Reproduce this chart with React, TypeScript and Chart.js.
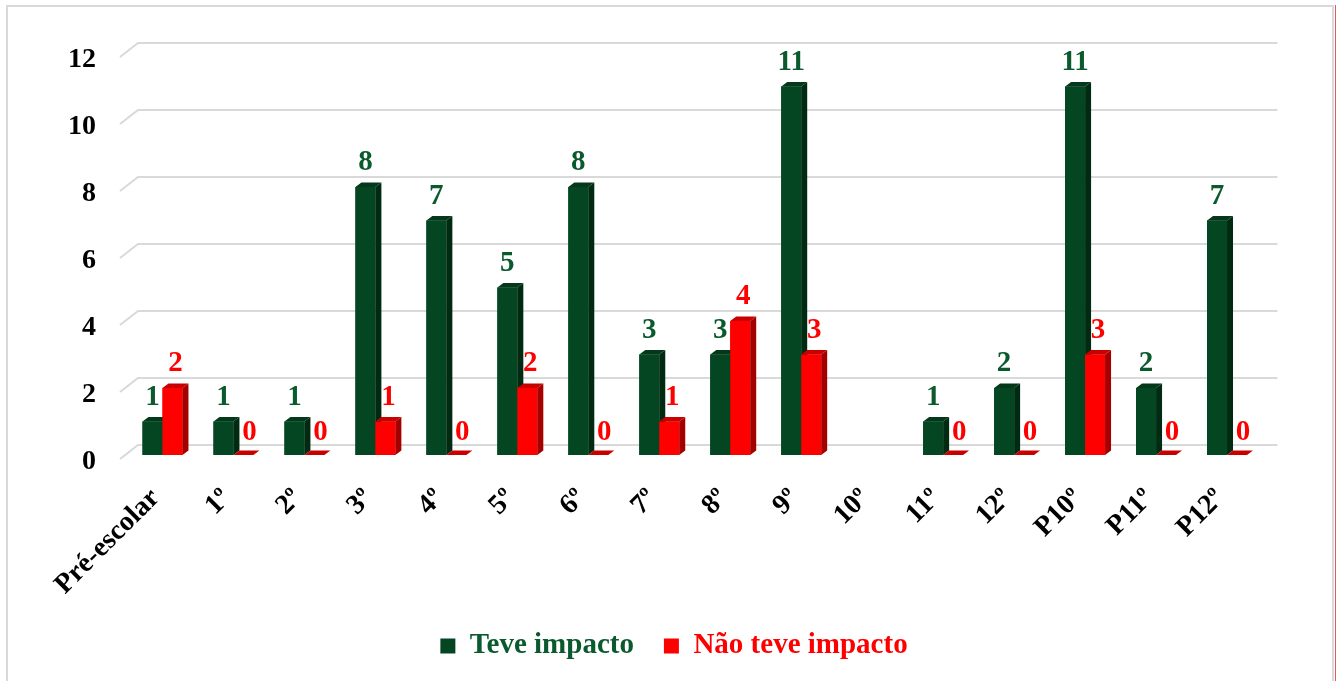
import React, { useEffect, useRef } from "react";
import { Chart, registerables } from "chart.js";

Chart.register(...registerables);

const CATEGORIES = ["Pré-escolar", "1º", "2º", "3º", "4º", "5º", "6º", "7º", "8º", "9º", "10º", "11º", "12º", "P10º", "P11º", "P12º"];
const TEVE_IMPACTO = [1, 1, 1, 8, 7, 5, 8, 3, 3, 11, null, 1, 2, 11, 2, 7];
const NAO_TEVE_IMPACTO = [2, 0, 0, 1, 0, 2, 0, 1, 4, 3, null, 0, 0, 3, 0, 0];
const SERIES_NAMES = ["Teve impacto", "Não teve impacto"];
const Y_MIN = 0;
const Y_MAX = 12;
const Y_STEP = 2;

const FONT = "'Liberation Serif', 'Times New Roman', serif";
const FRONT = ["#044622", "#ff0000"];
const SIDE = ["#012a13", "#a50000"];
const TOP = ["#03381b", "#c80000"];
const LABEL_COLORS = ["#0b5a2e", "#ff0000"];
const GRID = "#d9d9d9";
const DX = 6;
const DY = 4.5;

const threeD = {
  id: "threeD",
  beforeDraw(chart: any) {
    const ctx = chart.ctx;
    ctx.save();
    ctx.fillStyle = "#ffffff";
    ctx.fillRect(0, 0, chart.width, chart.height);
    ctx.strokeStyle = GRID;
    ctx.lineWidth = 2;
    ctx.strokeRect(7, 6, 1326, 700);
    ctx.strokeStyle = "#e05a5a";
    ctx.lineWidth = 1;
    ctx.beginPath();
    ctx.moveTo(1335.5, 5);
    ctx.lineTo(1335.5, 681);
    ctx.stroke();
    ctx.restore();
  },
  beforeDatasetsDraw(chart: any) {
    const ctx = chart.ctx;
    const y = chart.scales.y;
    const area = chart.chartArea;
    ctx.save();
    ctx.strokeStyle = GRID;
    ctx.lineWidth = 2;
    for (let v = Y_MIN; v <= Y_MAX; v += Y_STEP) {
      const py = y.getPixelForValue(v);
      ctx.beginPath();
      ctx.moveTo(area.left - 7, py + 4);
      ctx.lineTo(area.left + 11, py - 10);
      ctx.lineTo(area.right + 15, py - 10);
      ctx.stroke();
    }
    ctx.restore();
  },
  afterDatasetsDraw(chart: any) {
    const ctx = chart.ctx;
    ctx.save();
    [0, 1].forEach((di) => {
      const meta = chart.getDatasetMeta(di);
      const data = chart.data.datasets[di].data;
      meta.data.forEach((el: any, i: number) => {
        if (data[i] == null) return;
        const w = el.width;
        const left = el.x - w / 2;
        const right = el.x + w / 2;
        const top = Math.min(el.y, el.base);
        const bottom = el.base;
        ctx.fillStyle = FRONT[di];
        ctx.fillRect(left, top, w, bottom - top);
        ctx.fillStyle = SIDE[di];
        ctx.beginPath();
        ctx.moveTo(right, top);
        ctx.lineTo(right + DX, top - DY);
        ctx.lineTo(right + DX, bottom - DY);
        ctx.lineTo(right, bottom);
        ctx.closePath();
        ctx.fill();
        ctx.fillStyle = TOP[di];
        ctx.beginPath();
        ctx.moveTo(left, top);
        ctx.lineTo(left + DX, top - DY);
        ctx.lineTo(right + DX, top - DY);
        ctx.lineTo(right, top);
        ctx.closePath();
        ctx.fill();
      });
    });
    ctx.font = `bold 29px ${FONT}`;
    ctx.textAlign = "center";
    ctx.textBaseline = "alphabetic";
    [0, 1].forEach((di) => {
      const meta = chart.getDatasetMeta(di);
      const data = chart.data.datasets[di].data;
      meta.data.forEach((el: any, i: number) => {
        const v = data[i];
        if (v == null) return;
        const top = Math.min(el.y, el.base);
        ctx.fillStyle = LABEL_COLORS[di];
        const xOff = v === 0 ? 6 : di === 1 ? 3 : 0;
        ctx.fillText(String(v), el.x + xOff, top - (v === 0 ? 15 : 17));
      });
    });
    ctx.restore();
  },
};

export default function App() {
  const ref = useRef<HTMLCanvasElement | null>(null);
  useEffect(() => {
    document.body.style.margin = "0";
    const canvas = ref.current!;
    const chart = new Chart(canvas, {
      type: "bar",
      data: {
        labels: CATEGORIES,
        datasets: [
          { label: SERIES_NAMES[0], data: TEVE_IMPACTO as any, backgroundColor: FRONT[0], borderWidth: 0 },
          { label: SERIES_NAMES[1], data: NAO_TEVE_IMPACTO as any, backgroundColor: FRONT[1], borderWidth: 0 },
        ],
      },
      options: {
        responsive: false,
        animation: false,
        devicePixelRatio: 1,
        layout: { padding: { left: 8, right: 0, top: 53, bottom: 10.5 } },
        datasets: { bar: { categoryPercentage: 0.563, barPercentage: 1 } },
        scales: {
          x: {
            grid: { display: false, drawTicks: false },
            border: { display: false },
            ticks: {
              autoSkip: false,
              maxRotation: 45,
              minRotation: 45,
              padding: 27,
              labelOffset: -7,
              color: "#000000",
              font: { family: FONT, size: 28, weight: "bold" },
            },
            afterFit: (s: any) => {
              s.height = 146.5;
            },
          },
          y: {
            min: Y_MIN,
            max: Y_MAX,
            grid: { display: false, drawTicks: false },
            border: { display: false },
            ticks: {
              stepSize: Y_STEP,
              padding: 31,
              labelOffset: 7,
              color: "#000000",
              font: { family: FONT, size: 28, weight: "bold" },
            },
            afterFit: (s: any) => {
              s.width = 119;
            },
          },
          yRight: {
            type: "linear",
            position: "right",
            display: true,
            grid: { display: false, drawTicks: false },
            border: { display: false },
            ticks: { display: false },
            afterFit: (s: any) => {
              s.width = 77.5;
            },
          },
        },
        plugins: {
          tooltip: { enabled: false },
          legend: {
            position: "bottom",
            labels: {
              boxWidth: 15,
              boxHeight: 15,
              padding: 30,
              font: { family: FONT, size: 29, weight: "bold" },
              generateLabels: (ch: any) =>
                Chart.defaults.plugins.legend.labels.generateLabels(ch).map((it: any, i: number) => ({
                  ...it,
                  fontColor: LABEL_COLORS[i],
                  lineWidth: 0,
                  strokeStyle: "rgba(0,0,0,0)",
                })),
            },
          },
        },
      },
      plugins: [threeD],
    } as any);
    return () => chart.destroy();
  }, []);
  return (
    <div style={{ position: "fixed", left: 0, top: 0, width: 1340, height: 681 }}>
      <canvas ref={ref} width={1340} height={681} />
    </div>
  );
}
